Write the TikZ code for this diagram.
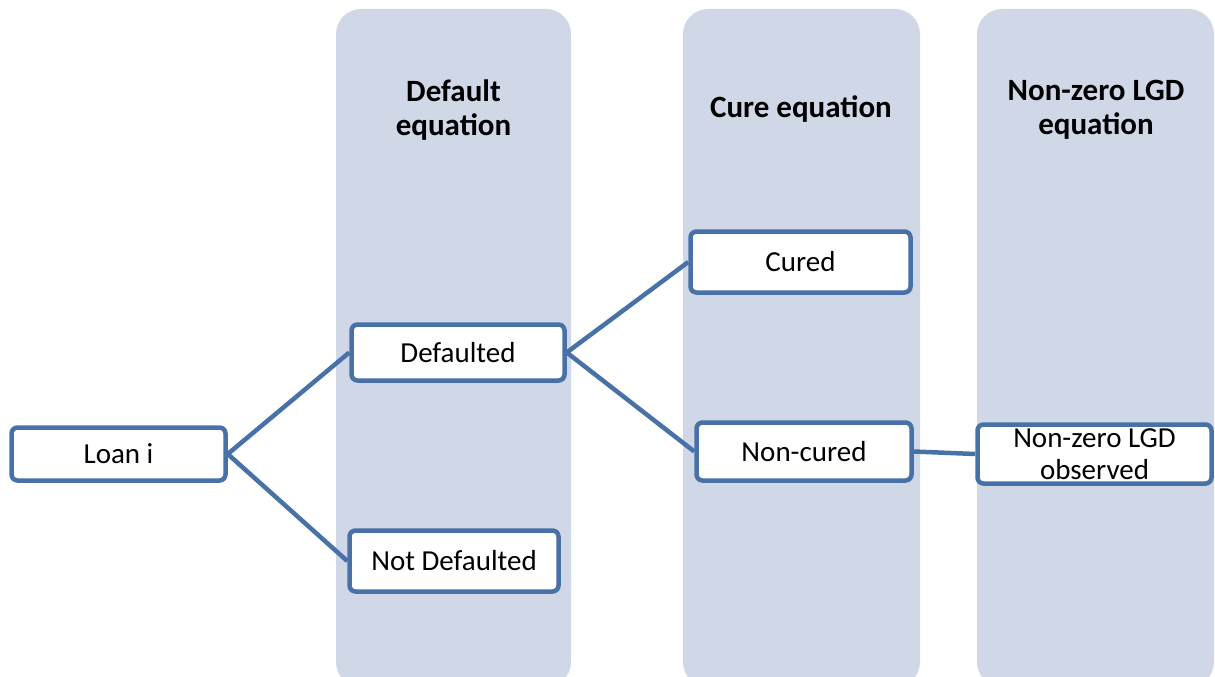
\documentclass[tikz,border=0pt]{standalone}
\usepackage{fontspec}
\setmainfont{Carlito}
\usepackage{tikz}
\usetikzlibrary{positioning}
\definecolor{bandfill}{RGB}{208,216,232}
\definecolor{boxline}{RGB}{72,113,168}

\begin{document}
\begin{tikzpicture}[x=1pt,y=-1pt,
    band/.style={fill=bandfill,rounded corners=25pt},
    state/.style={draw=boxline,line width=4.5pt,fill=white,rounded corners=6pt,inner sep=0pt,
        font=\fontsize{29}{32}\selectfont,align=center},
    head/.style={font=\fontsize{31}{34}\selectfont\bfseries,align=center},
    link/.style={draw=boxline,line width=4.5pt}]
                \clip (0,0) rectangle (1215,677);
                % equation bands
                \fill [band] (336,9) rectangle (571,687);
                \fill [band] (683,9) rectangle (920,687);
                \fill [band] (977,9) rectangle (1214,687);
                \node[head] (defhead) at (453.5,110) {Default\\equation};
                \node[head] (curehead) at (801,109) {Cure equation};
                \node[head] (lgdhead) at (1096,110) {Non-zero LGD\\equation};
                % outcomes
                \node[state,minimum width=214pt,minimum height=53pt] (loan) at (118.5,454) {Loan i};
                \node[state,minimum width=213pt,minimum height=56pt] (dflt) at (458,352.5) {Defaulted};
                \node[state,minimum width=209pt,minimum height=61pt] (nodflt) at (454,561) {Not Defaulted};
                \node[state,minimum width=220pt,minimum height=61pt] (cured) at (800.5,262) {Cured};
                \node[state,minimum width=215pt,minimum height=58pt] (noncured) at (804,451.5) {Non-cured};
                \node[state,minimum width=234pt,minimum height=59pt] (lgd) at (1094.5,454) {Non-zero LGD\\observed};
                \draw [link] (loan.east) -- (dflt.west);
                \draw [link] (loan.east) -- (nodflt.west);
                \draw [link] (dflt.east) -- (cured.west);
                \draw [link] (dflt.east) -- (noncured.west);
                \draw [link] (noncured.east) -- (lgd.west);
            \end{tikzpicture}
\end{document}
